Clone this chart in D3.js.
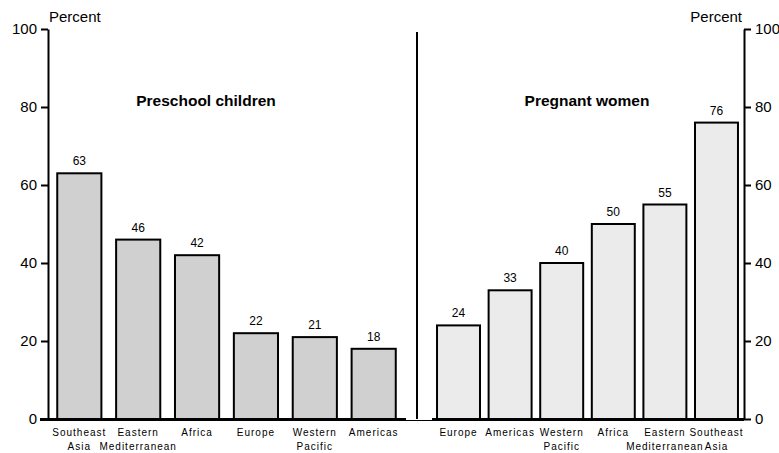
<!DOCTYPE html>
<html>
<head>
<meta charset="utf-8">
<script src="https://cdn.jsdelivr.net/npm/d3@7"></script>
<style>
  body { margin: 0; background: #fff; }
  text { font-family: "Liberation Sans", Arial, sans-serif; fill: #000; }
</style>
</head>
<body>
<div id="chart"></div>
<script>
// Data
var childRegions = [["Southeast", "Asia"], ["Eastern", "Mediterranean"], ["Africa"], ["Europe"], ["Western", "Pacific"], ["Americas"]];
var childValues = [63, 46, 42, 22, 21, 18];
var womenRegions = [["Europe"], ["Americas"], ["Western", "Pacific"], ["Africa"], ["Eastern", "Mediterranean"], ["Southeast", "Asia"]];
var womenValues = [24, 33, 40, 50, 55, 76];
var yTicks = [0, 20, 40, 60, 80, 100];

var width = 779, height = 453;

var svg = d3.select('#chart')
  .append('svg')
    .attr('width', width)
    .attr('height', height);

// y scale shared by both panels
var y = d3.scaleLinear()
  .domain([0, 100])
  .range([419, 29]);

// Left axis
var yLeft = svg.append("g")
  .attr("transform", "translate(48,0)")
  .call(d3.axisLeft(y).tickValues(yTicks).tickSize(7).tickSizeOuter(0).tickPadding(4));
// Right axis
var yRight = svg.append("g")
  .attr("transform", "translate(744,0)")
  .call(d3.axisRight(y).tickValues(yTicks).tickSize(7).tickSizeOuter(0).tickPadding(4));

[yLeft, yRight].forEach(function(g) {
  g.select(".domain").attr("stroke", "#000").attr("stroke-width", 2);
  g.selectAll(".tick line").attr("stroke", "#000").attr("stroke-width", 2);
  g.selectAll(".tick text")
    .style("font-family", "Liberation Sans, Arial, sans-serif")
    .style("font-size", "15px")
    .attr("fill", "#000");
});

svg.append("text")
  .attr("x", 49).attr("y", 22)
  .style("font-size", "15px")
  .text("Percent");
svg.append("text")
  .attr("x", 742).attr("y", 22)
  .attr("text-anchor", "end")
  .style("font-size", "15px")
  .text("Percent");

// Divider
svg.append("line")
  .attr("x1", 417).attr("x2", 417)
  .attr("y1", 32).attr("y2", y(0))
  .attr("stroke", "#000").attr("stroke-width", 2);

function drawPanel(regions, values, range, inner, outer, fill, title, titleX, baseFrom) {
  var names = regions.map(function(d) { return d.join(" "); });
  var x = d3.scaleBand()
    .domain(names)
    .range(range)
    .paddingInner(inner)
    .paddingOuter(outer);

  var g = svg.append("g");

  g.selectAll("rect")
    .data(values)
    .enter().append("rect")
      .attr("x", function(d, i) { return x(names[i]); })
      .attr("y", function(d) { return y(d); })
      .attr("width", x.bandwidth())
      .attr("height", function(d) { return y(0) - y(d); })
      .attr("fill", fill)
      .attr("stroke", "#000")
      .attr("stroke-width", 2);

  g.selectAll(".val")
    .data(values)
    .enter().append("text")
      .attr("class", "val")
      .attr("x", function(d, i) { return x(names[i]) + x.bandwidth() / 2; })
      .attr("y", function(d) { return y(d) - 8; })
      .attr("text-anchor", "middle")
      .style("font-size", "12px")
      .text(function(d) { return d; });

  // category labels
  regions.forEach(function(lines, i) {
    var t = g.append("text")
      .attr("x", x(names[i]) + x.bandwidth() / 2)
      .attr("y", 436)
      .attr("text-anchor", "middle")
      .style("font-size", "10px")
      .style("letter-spacing", "1px");
    lines.forEach(function(l, j) {
      t.append("tspan")
        .attr("x", x(names[i]) + x.bandwidth() / 2)
        .attr("dy", j === 0 ? 0 : 14)
        .text(l);
    });
  });

  // baseline
  g.append("line")
    .attr("x1", baseFrom).attr("x2", range[1] + 2)
    .attr("y1", y(0) + 0.5).attr("y2", y(0) + 0.5)
    .attr("stroke", "#000").attr("stroke-width", 3);

  svg.append("text")
    .attr("x", titleX).attr("y", 106)
    .attr("text-anchor", "middle")
    .style("font-size", "15.5px")
    .style("font-weight", "bold")
    .text(title);
}

drawPanel(childRegions, childValues, [49, 404], 0.25, 0.14, "#d0d0d0", "Preschool children", 206, 40);
drawPanel(womenRegions, womenValues, [433, 742], 0.167, 0.078, "#ebebeb", "Pregnant women", 587, 432);

// thin connector between panels
svg.append("line")
  .attr("x1", 404).attr("x2", 432)
  .attr("y1", y(0) + 1.5).attr("y2", y(0) + 1.5)
  .attr("stroke", "#000").attr("stroke-width", 1);
</script>
</body>
</html>
